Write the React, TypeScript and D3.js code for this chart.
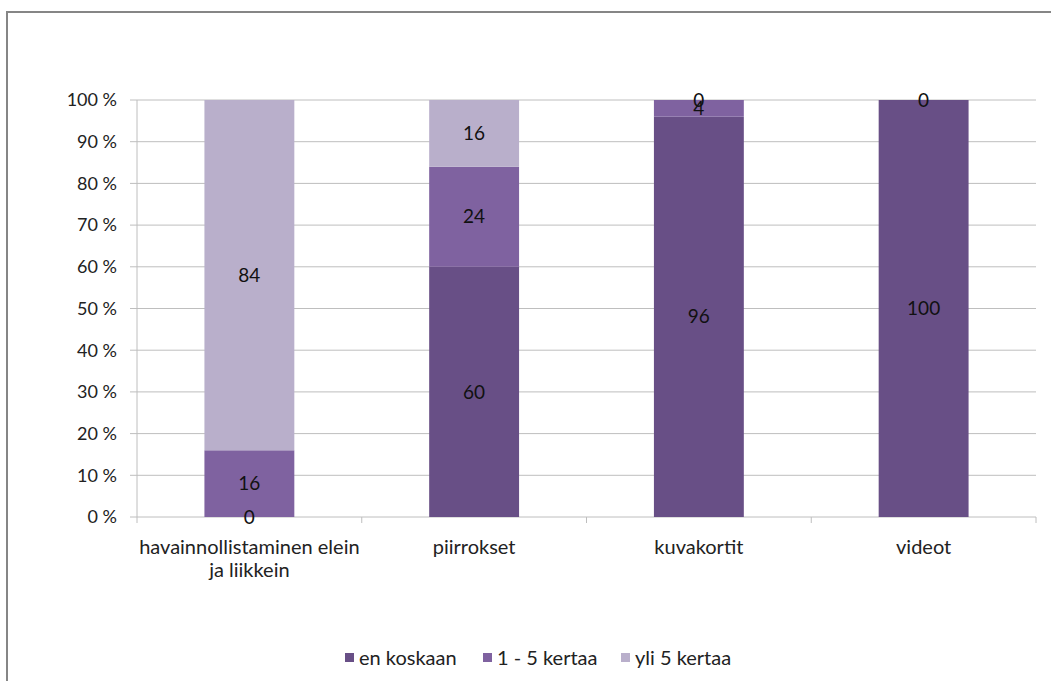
import React from "react";
import * as d3 from "d3";

const categories = ["havainnollistaminen elein\nja liikkein", "piirrokset", "kuvakortit", "videot"];
const seriesNames = ["en koskaan", "1 - 5 kertaa", "yli 5 kertaa"];
const enKoskaan = [0, 60, 96, 100];
const yksiViisi = [16, 24, 4, 0];
const yliViisi = [84, 16, 0, 0];
const yTicks = [0, 10, 20, 30, 40, 50, 60, 70, 80, 90, 100];
const colors = ["#684F86", "#7F62A0", "#B9AFCB"];

const W = 1051;
const H = 681;
const FONT = "Lato, 'Open Sans', sans-serif";

export default function App() {
  const left = 137, right = 1036, top = 100, bottom = 517;
  const x = d3.scaleBand<string>().domain(categories).range([left, right]).paddingInner(0).paddingOuter(0);
  const y = d3.scaleLinear().domain([0, 100]).range([bottom, top]);
  const barW = x.bandwidth() * 0.4;
  const seriesVals = [enKoskaan, yksiViisi, yliViisi];
  const rows = categories.map((c, i) => ({ c, s0: enKoskaan[i], s1: yksiViisi[i], s2: yliViisi[i] }));
  const stack = d3.stack<any>().keys(["s0", "s1", "s2"])(rows);

  const legendX = [345, 483, 621];

  return (
    <svg width={W} height={H} style={{ position: "absolute", left: 0, top: 0 }} fontFamily={FONT}>
      <rect x={0} y={0} width={W} height={H} fill="#fff" />
      <rect x={7} y={12} width={W + 20} height={H + 20} fill="none" stroke="#868686" strokeWidth={2} />
      {yTicks.map((t) => (
        <g key={t}>
          <line x1={left} x2={right} y1={y(t)} y2={y(t)} stroke="#BEBEBE" strokeWidth={1} />
          <line x1={130} x2={left} y1={y(t)} y2={y(t)} stroke="#BEBEBE" strokeWidth={1} />
          <text x={117} y={y(t)} dy="0.35em" textAnchor="end" fontSize={18} fill="#222">{`${t} %`}</text>
        </g>
      ))}
      <line x1={left} x2={left} y1={top} y2={bottom} stroke="#BEBEBE" />
      {[...categories.map((c) => x(c)!), right].map((px, i) => (
        <line key={i} x1={px} x2={px} y1={bottom} y2={bottom + 6} stroke="#BEBEBE" />
      ))}
      {stack.map((layer, si) =>
        layer.map((d, ci) => {
          const cx = x(categories[ci])! + x.bandwidth() / 2;
          const y0 = y(d[0]);
          const y1 = y(d[1]);
          return (
            <rect key={`${si}-${ci}`} x={cx - barW / 2} y={y1} width={barW} height={Math.max(0, y0 - y1)} fill={colors[si]} />
          );
        })
      )}
      {stack.map((layer, si) =>
        layer.map((d, ci) => {
          const cx = x(categories[ci])! + x.bandwidth() / 2;
          const v = seriesVals[si][ci];
          if (v === 0 && !((si === 0 && ci === 0) || (si === 2 && ci >= 2))) return null;
          const cy = (y(d[0]) + y(d[1])) / 2;
          return (
            <text key={`l${si}-${ci}`} x={cx} y={cy} dy="0.35em" textAnchor="middle" fontSize={19} fill="#111">{v}</text>
          );
        })
      )}
      {categories.map((c) => {
        const lines = c.split("\n");
        const cx = x(c)! + x.bandwidth() / 2;
        return (
          <text key={c} x={cx} y={547} textAnchor="middle" fontSize={20} fill="#222">
            {lines.map((l, i) => (
              <tspan key={i} x={cx} dy={i === 0 ? "0.35em" : 23}>{l}</tspan>
            ))}
          </text>
        );
      })}
      {seriesNames.map((n, i) => (
        <g key={n}>
          <rect x={legendX[i]} y={653} width={9} height={9} fill={colors[i]} />
          <text x={legendX[i] + 14} y={658} dy="0.35em" fontSize={20} fill="#222">{n}</text>
        </g>
      ))}
    </svg>
  );
}
